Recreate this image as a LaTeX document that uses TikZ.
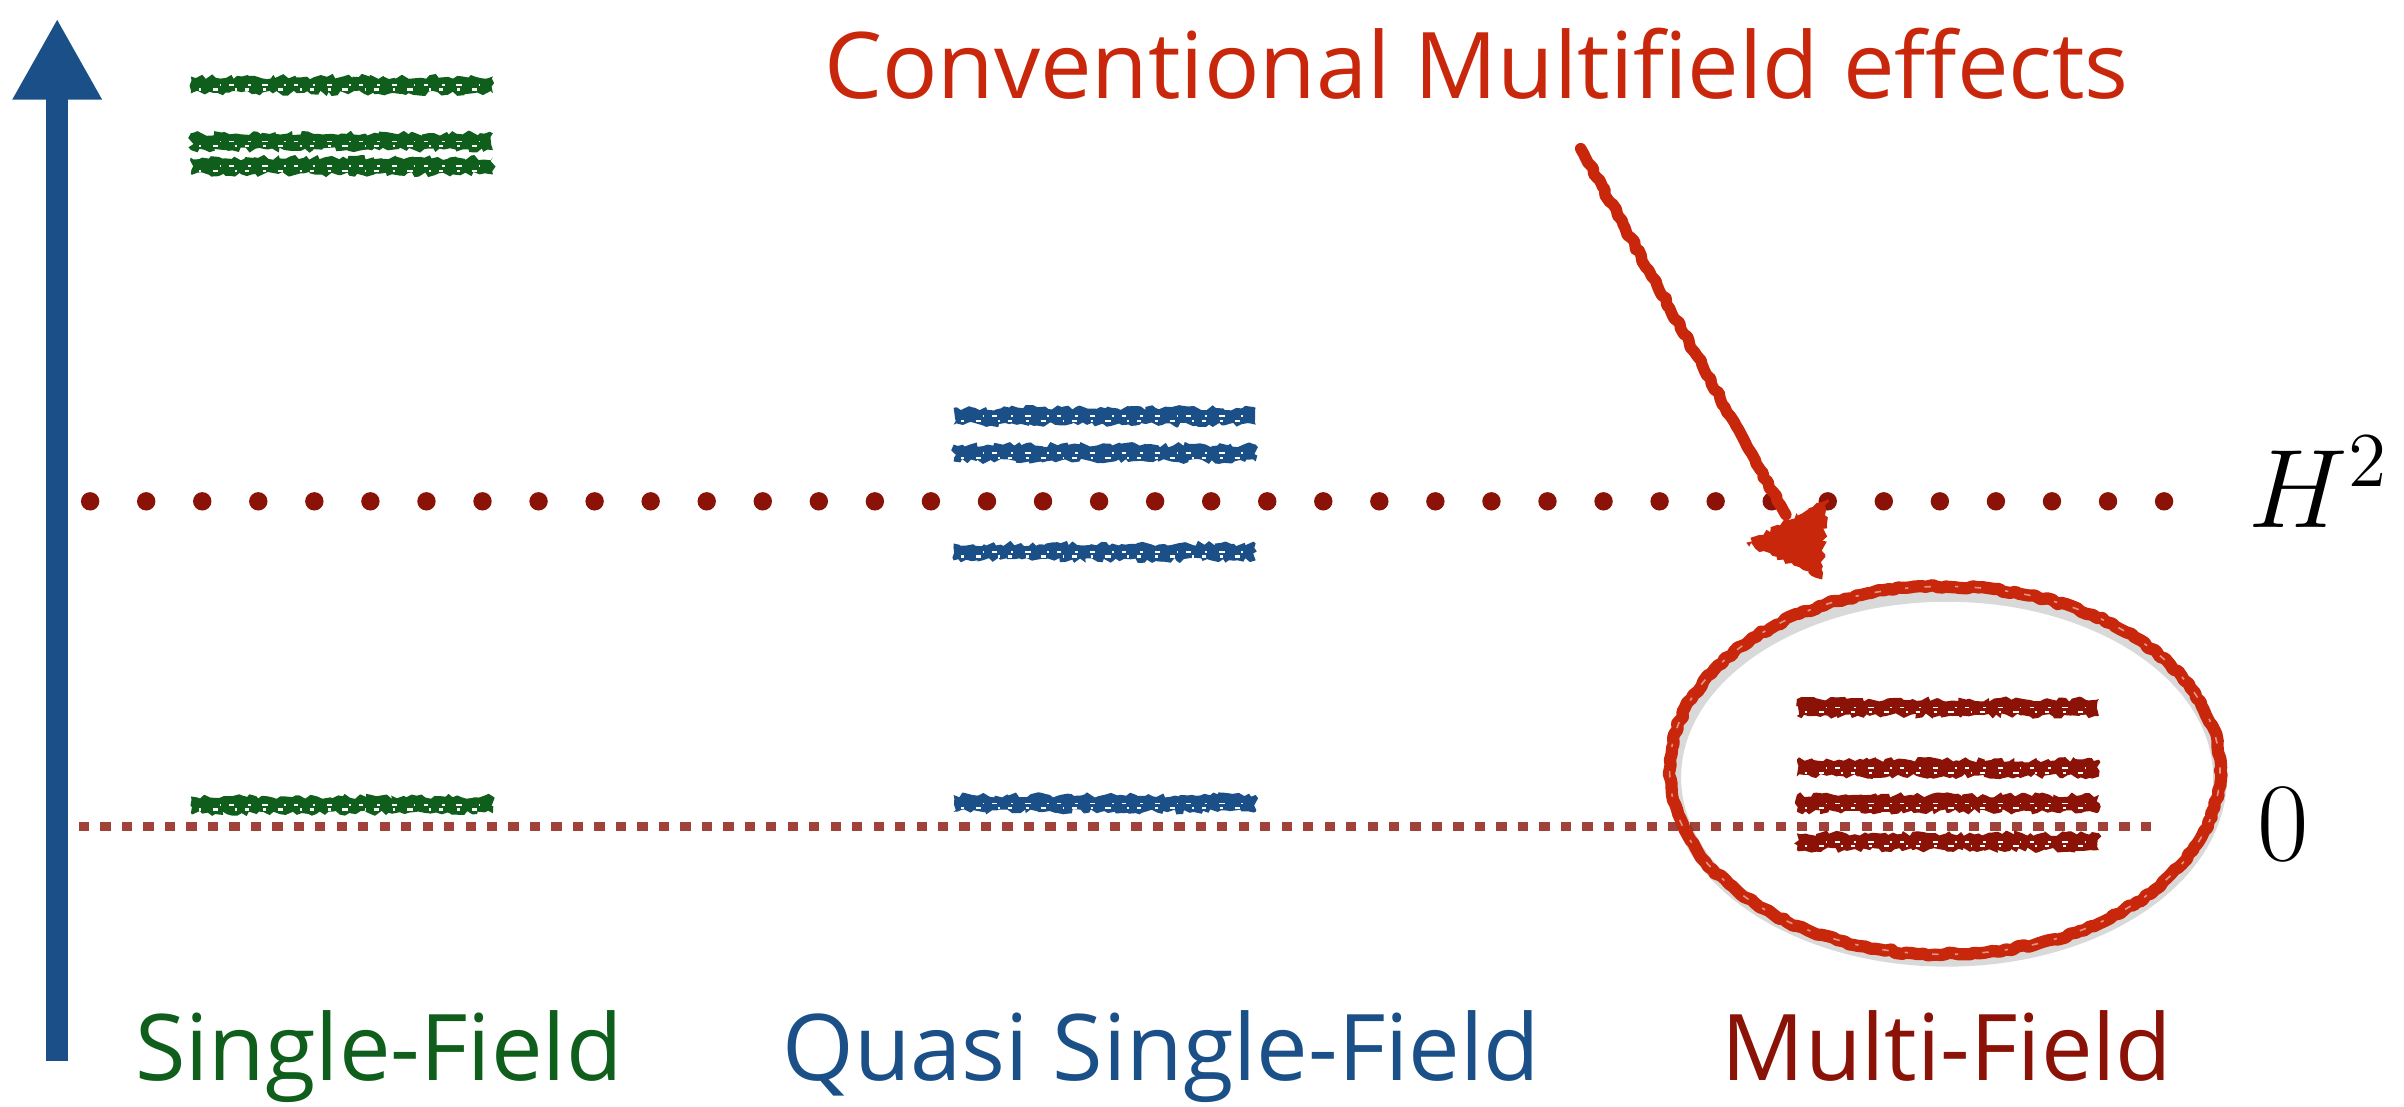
\documentclass[tikz,border=0pt]{standalone}
\usepackage{fontspec}
\setmainfont{Open Sans}
\usetikzlibrary{arrows.meta,decorations.pathmorphing,shapes.geometric,calc}

\definecolor{axisblue}{RGB}{26,80,135}
\definecolor{sfgreen}{RGB}{15,94,28}
\definecolor{mfred}{RGB}{138,18,6}
\definecolor{markred}{RGB}{200,39,11}
\definecolor{zerored}{RGB}{160,66,58}

\begin{document}
\begin{tikzpicture}[x=0.01cm,y=-0.01cm,
  chalk/.style={decorate,decoration={random steps,segment length=0.8pt,amplitude=0.5pt}},
  chalkline/.style={decorate,decoration={random steps,segment length=1pt,amplitude=0.3pt},line join=round,line cap=round},
  fieldname/.style={inner sep=0,anchor=base,font=\fontsize{17.07}{20}\selectfont},
  mathlabel/.style={inner sep=0,font=\fontsize{19.6}{24}\selectfont},
  speckle/.style={white,line width=0.4pt,dash pattern=on 0.5pt off 2.2pt on 1pt off 3.1pt on 0.3pt off 1.5pt on 0.8pt off 2.6pt},
]
\pgfmathsetseed{7}
\useasboundingbox[fill=white] (0,0) rectangle (1568,722);

% energy axis
\coordinate (axisbot) at (37.3,692);
\coordinate (axistop) at (37.3,12);
\draw[axisblue,line width=0.144cm,-{Triangle[length=0.53cm,width=0.545cm]}] (axisbot) -- (axistop);

% zero level and H^2 level
\coordinate (zeroL) at (51.5,539);
\coordinate (zeroR) at (1406,539);
\draw[zerored,line width=0.06cm,dash pattern=on 0.067cm off 0.073cm] (zeroL) -- (zeroR);
\foreach \i in {0,...,37}
  \fill[mfred] (58.8+36.56*\i,327) circle[radius=6];

% mass levels, chalk strokes
\foreach \c/\x/\y in {sfgreen/124.5/55.4, sfgreen/124.5/92.4, sfgreen/124.5/108.3, sfgreen/124.5/525,
                      axisblue/622/271.5, axisblue/622/295.5, axisblue/622/360, axisblue/622/524,
                      mfred/1172/461.5, mfred/1172/501, mfred/1172/524, mfred/1172/549} {
  \fill[\c,chalk] (\x,\y-5.5) rectangle ++(197,11);
  \draw[speckle] (\x+5,\y+3) -- ++(187,0);
  \draw[speckle,dash phase=4pt,line width=0.3pt] (\x+9,\y) -- ++(180,0);
}

% highlighted multi-field spectrum
\node[ellipse,minimum width=3.59cm,minimum height=2.4cm,inner sep=0] (mfring) at (1268.5,502.5) {};
\draw[black,opacity=0.15,line width=0.09cm] ([shift={(1.5,4.5)}]mfring.center) ellipse [x radius=178, y radius=119];
\draw[markred,line width=0.08cm,chalkline] (mfring.center) ellipse [x radius=179.5, y radius=120];
\draw[white,opacity=0.5,line width=0.3pt,dash pattern=on 0.6pt off 3pt on 1.2pt off 4.5pt] (mfring.center) ellipse [x radius=179.5, y radius=120];

% pointer from the annotation
\coordinate (arrowstart) at (1031,97);
\coordinate (arrowtip) at (1188.5,378);
\draw[markred,line width=0.075cm,chalkline] (arrowstart) -- ($(arrowstart)!0.85!(arrowtip)$);
\fill[markred,chalk,line join=round] (1139,354) -- (1192,324) -- (arrowtip) -- cycle;

% texts
\node[fieldname,text=markred] (note) at (963,64) {Conventional Multifield effects};
\node[fieldname,text=sfgreen] (sf) at (247,705) {Single-Field};
\node[fieldname,text=axisblue] (qsf) at (757.5,705) {Quasi Single-Field};
\node[fieldname,text=mfred] (mf) at (1270,705) {Multi-Field};
\node[mathlabel,anchor=base west] (hsq) at (1466,344) {$H^2$};
\node[mathlabel,anchor=base] (zero) at (1489,561) {$0$};
\end{tikzpicture}
\end{document}
